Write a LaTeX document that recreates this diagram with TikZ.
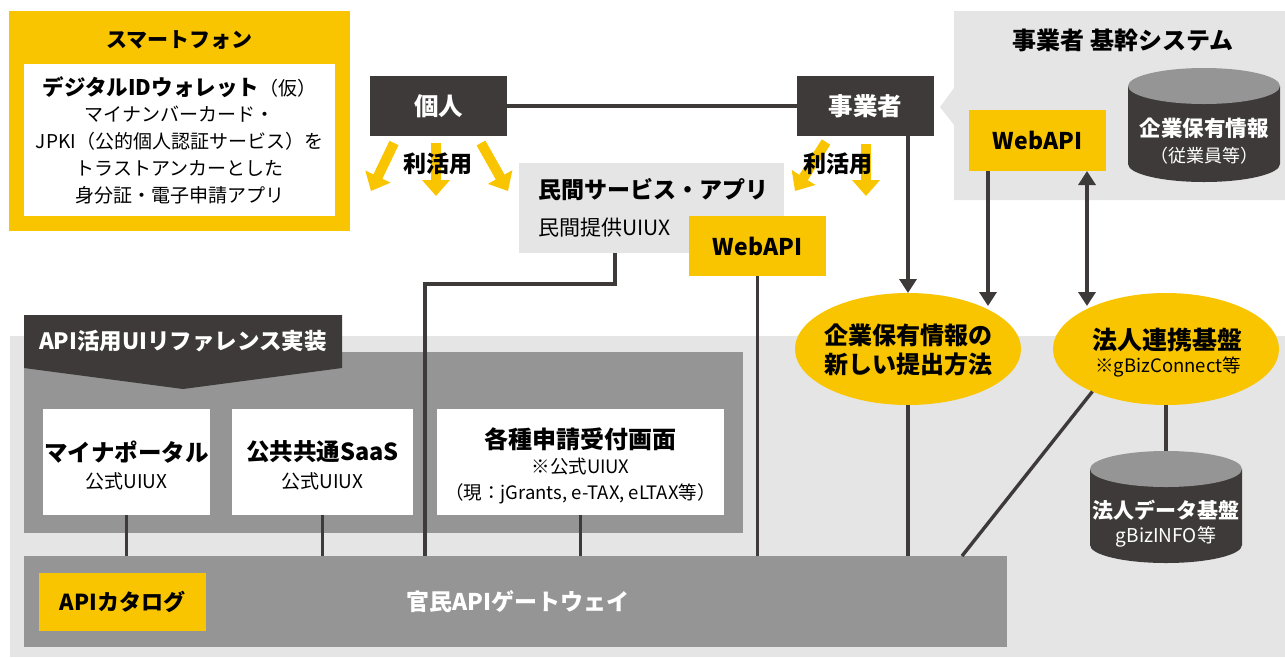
\documentclass[tikz,border=0pt]{standalone}
\usepackage{fontspec}
\setmainfont{Noto Sans CJK JP}
\usetikzlibrary{arrows.meta,shapes.geometric}
\definecolor{yl}{HTML}{F8C500}
\definecolor{dk}{HTML}{3E3A39}
\definecolor{md}{HTML}{959595}
\definecolor{lt}{HTML}{E5E5E5}
\newcommand{\fs}[1]{\fontsize{#1}{#1}\selectfont}
\newcommand{\fsl}[2]{\fontsize{#1}{#2}\selectfont}
\begin{document}
\begin{tikzpicture}[x=1pt,y=-1pt,
  plain/.style={inner sep=0pt,outer sep=0pt},
  ybox/.style={plain,fill=yl,font=\bfseries\fs{23}},
  dbox/.style={plain,fill=dk,text=white,font=\bfseries\fs{24.5}},
  wbox/.style={plain,fill=white},
  conn/.style={draw=dk,line width=3.4pt},
  arr/.style={conn,-{Triangle[width=17pt,length=14pt]}},
  darr/.style={conn,{Triangle[width=17pt,length=14pt]}-{Triangle[width=17pt,length=14pt]}},
  yarr/.style={draw=yl,line width=10pt,-{Triangle[width=27pt,length=16pt]}},
  ttl/.style={font=\bfseries\fs{21}},
  sub/.style={font=\fs{19}},
  yell/.style={ellipse,plain,fill=yl,minimum width=226,minimum height=112}
]
\useasboundingbox (0,0) rectangle (1285,657);

% ---------- smartphone ----------
\node[plain,fill=yl,minimum width=341,minimum height=220] (phone) at (179.5,121) {};
\node[ttl] (phonet) at (179.5,40) {スマートフォン};
\node[wbox,minimum width=311,minimum height=152] (wallet) at (179.5,140) {};
\node[align=center,font=\fsl{19}{26.7}] (wallett) at (179.5,140)
  {{\bfseries\fsl{21.5}{26.7}デジタルIDウォレット}（仮）\\ マイナンバーカード・\\ JPKI（公的個人認証サービス）を\\ トラストアンカーとした\\ 身分証・電子申請アプリ};

% ---------- actors ----------
\node[dbox,minimum width=137,minimum height=60] (kojin) at (438.5,106) {個人};
\node[dbox,minimum width=137,minimum height=60] (jigyo) at (865.5,106) {事業者};
\draw[conn] (kojin) -- (jigyo);

% yellow arrows
\draw[yarr] (394,143) -- (371,191);
\draw[yarr] (436,143) -- (436,196);
\draw[yarr] (481,143) -- (508,191);
\draw[yarr] (826,142) -- (795,191);
\draw[yarr] (866,144) -- (866,196);
\node[font=\bfseries\fs{23}] (riyo1) at (438,164) {利活用};
\node[font=\bfseries\fs{23}] (riyo2) at (838,164) {利活用};

% ---------- private service ----------
\node[plain,fill=lt,minimum width=265,minimum height=90] (minkan) at (651.5,208) {};
\node[anchor=west,font=\bfseries\fs{23}] (minkant) at (535,190) {民間サービス・アプリ};
\node[anchor=west,font=\fs{21}] (minkans) at (535,228) {民間提供UIUX};
\node[ybox,minimum width=137,minimum height=60] (wapi1) at (757.5,246) {WebAPI};

% ---------- business system panel ----------
\fill[lt] (954,11) -- (1285,11) -- (1285,200) -- (954,200) -- (954,125) -- (940,107) -- (954,88) -- cycle;
\node[font=\bfseries\fs{24}] (syst) at (1123,40) {事業者 基幹システム};
\node[ybox,minimum width=137,minimum height=61] (wapi2) at (1037.5,140.5) {WebAPI};
\node[plain,minimum width=152,minimum height=114] (cyl1) at (1204,125) {};
\fill[dk] (1128,86) -- (1128,164) arc[start angle=180,end angle=360,x radius=76pt,y radius=18pt] -- (1280,86) -- cycle;
\fill[md] (1204,86) ellipse[x radius=76pt,y radius=18pt];
\node[text=white,font=\bfseries\fs{21.5}] at (1204,128) {企業保有情報};
\node[text=white,font=\fs{18}] at (1204,156) {（従業員等）};

% ---------- lower area ----------
\fill[lt] (10,336) rectangle (1285,657);
\node[plain,fill=md,minimum width=719,minimum height=181] (uipanel) at (383.5,442.5) {};
\fill[dk] (24,315) -- (342,315) -- (342,368) -- (183,389) -- (24,368) -- cycle;
\node[text=white,font=\bfseries\fs{22.5}] (apit) at (183,341) {API活用UIリファレンス実装};

\node[wbox,minimum width=167,minimum height=106] (myna) at (126.5,462) {};
\node[font=\bfseries\fs{23.5}] at (126.5,452) {マイナポータル};
\node[sub] at (126.5,481) {公式UIUX};
\node[wbox,minimum width=181,minimum height=106] (saas) at (322.5,462) {};
\node[font=\bfseries\fs{23.5}] at (322.5,452) {公共共通SaaS};
\node[sub] at (322.5,481) {公式UIUX};
\node[wbox,minimum width=287,minimum height=106] (kak) at (580.5,462) {};
\node[font=\bfseries\fs{24}] at (580.5,439) {各種申請受付画面};
\node[font=\fs{18.5}] at (580.5,467) {※公式UIUX};
\node[font=\fs{18.5}] at (580.5,494) {（現：jGrants, e-TAX, eLTAX等）};

\node[plain,fill=md,minimum width=983,minimum height=91] (gw) at (515.5,601.5) {};
\node[text=white,font=\bfseries\fs{23}] (gwt) at (518,602) {官民APIゲートウェイ};
\node[ybox,minimum width=167,minimum height=58,font=\bfseries\fs{22}] (cat) at (122.5,602) {APIカタログ};

% ellipses
\node[yell] (ell1) at (908,349) {};
\node[align=center,font=\bfseries\fsl{24}{29}] at (908,350) {企業保有情報の\\新しい提出方法};
\node[yell] (ell2) at (1166,349) {};
\node[font=\bfseries\fs{25}] at (1167,340) {法人連携基盤};
\node[font=\fs{18.5}] at (1168,367) {※gBizConnect等};

% ---------- connectors ----------
\draw[conn] (myna.south) -- (myna.south |- gw.north);
\draw[conn] (saas.south) -- (saas.south |- gw.north);
\draw[conn] (kak.south) -- (kak.south |- gw.north);
\coordinate (m1) at (615,284);
\coordinate (m2) at (425,284);
\draw[conn] (m1 |- minkan.south) -- (m1) -- (m2) -- (m2 |- gw.north);
\draw[conn] (wapi1.south) -- (wapi1.south |- gw.north);
\draw[arr] (ell1.north |- jigyo.south) -- (ell1.north);
\coordinate (t1) at (988,306);
\coordinate (t2) at (1087,306);
\draw[arr] (t1 |- wapi2.south) -- (t1);
\draw[darr] (t2 |- wapi2.south) -- (t2);
\draw[conn] (ell1.south) -- (ell1.south |- gw.north);
\coordinate (g1) at (962,556);
\draw[conn] (ell2.210) -- (g1);
\node[plain,minimum width=152,minimum height=112] (cyl2) at (1166,507) {};
\draw[conn] (ell2.south) -- (cyl2.north);
\fill[dk] (1090,469) -- (1090,545) arc[start angle=180,end angle=360,x radius=76pt,y radius=18pt] -- (1242,469) -- cycle;
\fill[md] (1166,469) ellipse[x radius=76pt,y radius=18pt];
\node[text=white,font=\bfseries\fs{21}] at (1166,510) {法人データ基盤};
\node[text=white,font=\fs{19}] at (1166,537) {gBizINFO等};
\end{tikzpicture}
\end{document}
